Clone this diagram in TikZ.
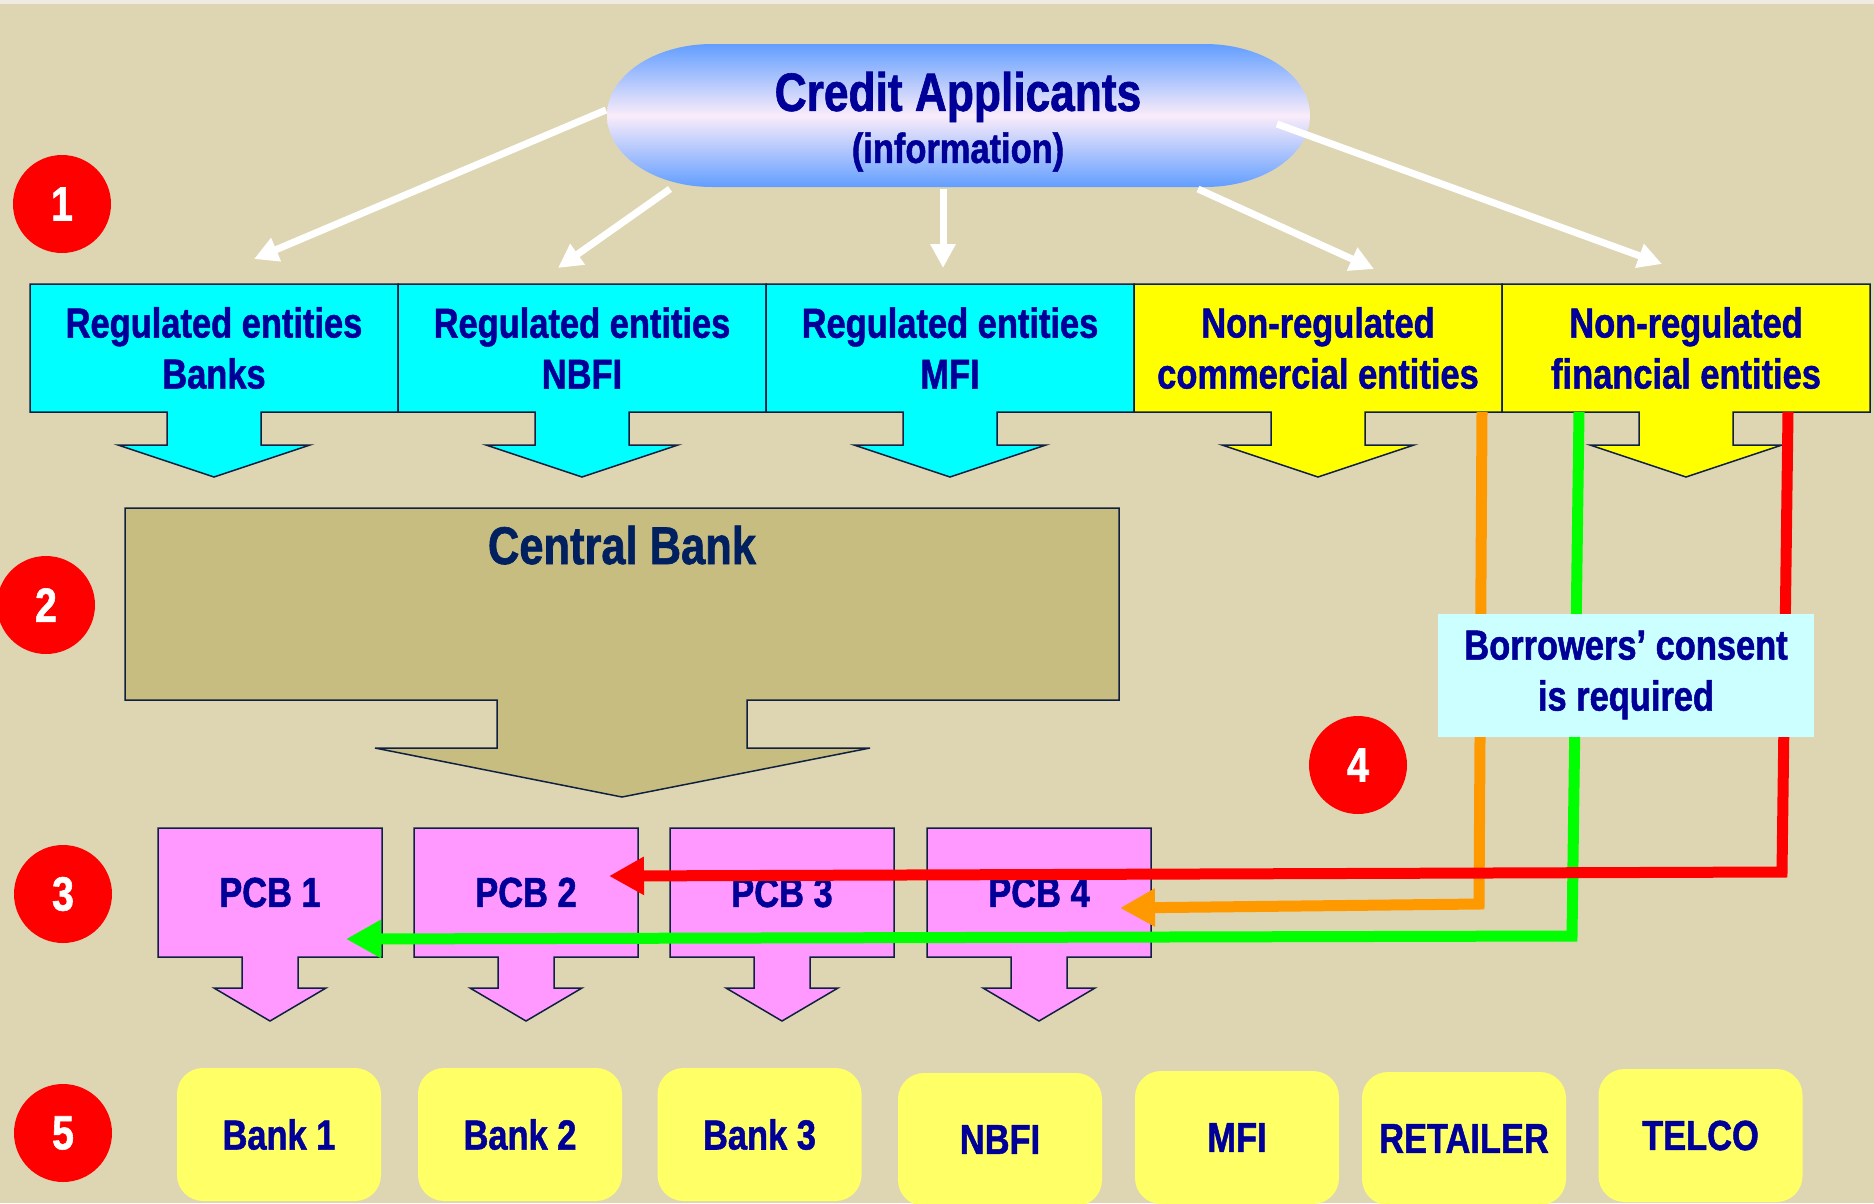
\documentclass[tikz,border=0pt]{standalone}
\usepackage{fontspec}
\setmainfont{Liberation Sans}[FakeStretch=0.82, FakeBold=1.2]
\usetikzlibrary{arrows.meta}

\definecolor{bgbeige}{RGB}{222,214,178}
\definecolor{topstrip}{RGB}{238,236,226}
\definecolor{navytext}{RGB}{0,0,153}
\definecolor{cbtext}{RGB}{0,32,96}
\definecolor{outline}{RGB}{16,32,64}
\definecolor{regcyan}{RGB}{0,255,255}
\definecolor{nonregyellow}{RGB}{255,255,0}
\definecolor{cbfill}{RGB}{200,189,128}
\definecolor{pcbpink}{RGB}{255,153,255}
\definecolor{userfill}{RGB}{255,255,102}
\definecolor{consentfill}{RGB}{204,255,255}
\definecolor{pillblue}{RGB}{98,158,255}
\definecolor{pillmid}{RGB}{250,236,250}
\definecolor{flowred}{RGB}{255,0,0}
\definecolor{floworange}{RGB}{255,153,0}
\definecolor{flowgreen}{RGB}{0,255,0}

\tikzset{
  boxtext/.style={text=navytext, align=center, font=\bfseries\fontsize{42}{51}\selectfont},
  callout/.style={draw=outline, line width=1.5pt, line join=miter},
  stepnum/.style={circle, fill=flowred, minimum size=98pt, inner sep=0pt, text=white, font=\bfseries\fontsize{48}{48}\selectfont},
  userbox/.style={rectangle, rounded corners=26pt, fill=userfill, minimum width=204pt, minimum height=133pt, inner sep=0pt, boxtext},
  infoarrow/.style={draw=white, line width=7pt, -{Triangle[length=24pt,width=24pt]}},
  flow/.style={line width=11pt, -{Triangle[length=35pt,width=36pt]}}
}

\begin{document}
\begin{tikzpicture}[x=1pt,y=-1pt]

\useasboundingbox (0,0) rectangle (1874,1203);
\fill[bgbeige] (0,0) rectangle (1874,1203);
\fill[topstrip] (0,0) rectangle (1874,4);

% applicants
\shade[top color=pillblue, bottom color=pillblue, middle color=pillmid]
  (712,44) -- (1205,44) .. controls (1263,44) and (1310,76) .. (1310,115.5)
  .. controls (1310,155) and (1263,187) .. (1205,187) -- (712,187)
  .. controls (654,187) and (607,155) .. (607,115.5)
  .. controls (607,76) and (654,44) .. (712,44) -- cycle;
\node[boxtext, font=\bfseries\fontsize{54}{52}\selectfont] (credit) at (958,121.7)
  {Credit Applicants\\{\fontsize{42}{52}\selectfont (information)}};

\coordinate (credA) at (606,110);
\coordinate (credB) at (670,189);
\coordinate (credC) at (943,189);
\coordinate (credD) at (1198,189);
\coordinate (credE) at (1277,124);
\coordinate (toBanks) at (254,259);
\coordinate (toNbfi) at (558,268);
\coordinate (toMfi) at (943,268);
\coordinate (toComm) at (1374,269);
\coordinate (toFin) at (1662,264);

\draw[infoarrow] (credA) -- (toBanks);
\draw[infoarrow] (credB) -- (toNbfi);
\draw[infoarrow] (credC) -- (toMfi);
\draw[infoarrow] (credD) -- (toComm);
\draw[infoarrow] (credE) -- (toFin);

% reporting entities
\draw[callout, fill=regcyan] (30,284) -- (398,284) -- (398,412) -- (261,412) -- (261,445) -- (310,445)
  -- (214,477) -- (118,445) -- (167,445) -- (167,412) -- (30,412) -- cycle;
\draw[callout, fill=regcyan] (398,284) -- (766,284) -- (766,412) -- (629,412) -- (629,445) -- (678,445)
  -- (582,477) -- (486,445) -- (535,445) -- (535,412) -- (398,412) -- cycle;
\draw[callout, fill=regcyan] (766,284) -- (1134,284) -- (1134,412) -- (997,412) -- (997,445) -- (1046,445)
  -- (950,477) -- (854,445) -- (903,445) -- (903,412) -- (766,412) -- cycle;
\draw[callout, fill=nonregyellow] (1134,284) -- (1502,284) -- (1502,412) -- (1365,412) -- (1365,445) -- (1414,445)
  -- (1318,477) -- (1222,445) -- (1271,445) -- (1271,412) -- (1134,412) -- cycle;
\draw[callout, fill=nonregyellow] (1502,284) -- (1870,284) -- (1870,412) -- (1733,412) -- (1733,445) -- (1782,445)
  -- (1686,477) -- (1590,445) -- (1639,445) -- (1639,412) -- (1502,412) -- cycle;

\node[boxtext] (banks) at (214,348) {Regulated entities\\Banks};
\node[boxtext] (nbfi) at (582,348) {Regulated entities\\NBFI};
\node[boxtext] (mfi) at (950,348) {Regulated entities\\MFI};
\node[boxtext] (commercial) at (1318,348) {Non-regulated\\commercial entities};
\node[boxtext] (financial) at (1686,348) {Non-regulated\\financial entities};

% central bank
\draw[callout, fill=cbfill] (125,508) -- (1119,508) -- (1119,700) -- (747,700) -- (747,748) -- (870,748)
  -- (622,797) -- (375,748) -- (497,748) -- (497,700) -- (125,700) -- cycle;
\node[boxtext, text=cbtext, font=\bfseries\fontsize{53}{53}\selectfont, anchor=base] (central) at (622,564) {Central Bank};

% credit bureaus
\draw[callout, fill=pcbpink] (158,828) -- (382,828) -- (382,957) -- (298,957) -- (298,988) -- (326,988)
  -- (270,1021) -- (214,988) -- (242,988) -- (242,957) -- (158,957) -- cycle;
\draw[callout, fill=pcbpink] (414,828) -- (638,828) -- (638,957) -- (554,957) -- (554,988) -- (582,988)
  -- (526,1021) -- (470,988) -- (498,988) -- (498,957) -- (414,957) -- cycle;
\draw[callout, fill=pcbpink] (670,828) -- (894,828) -- (894,957) -- (810,957) -- (810,988) -- (838,988)
  -- (782,1021) -- (726,988) -- (754,988) -- (754,957) -- (670,957) -- cycle;
\draw[callout, fill=pcbpink] (927,828) -- (1151,828) -- (1151,957) -- (1067,957) -- (1067,988) -- (1095,988)
  -- (1039,1021) -- (983,988) -- (1011,988) -- (1011,957) -- (927,957) -- cycle;

\node[boxtext] (pcb1) at (270,892.5) {PCB 1};
\node[boxtext] (pcb2) at (526,892.5) {PCB 2};
\node[boxtext] (pcb3) at (782,892.5) {PCB 3};
\node[boxtext] (pcb4) at (1039,892.5) {PCB 4};

% users
\node[userbox] (bank1) at (279,1134.5) {Bank 1};
\node[userbox] (bank2) at (520,1134.5) {Bank 2};
\node[userbox] (bank3) at (759.5,1134.5) {Bank 3};
\node[userbox] (usernbfi) at (1000,1139.5) {NBFI};
\node[userbox] (usermfi) at (1237,1137.5) {MFI};
\node[userbox] (retailer) at (1464,1138.5) {RETAILER};
\node[userbox] (telco) at (1700.5,1135.5) {TELCO};

% non-regulated data flows
\coordinate (commOut) at (1482,412);
\coordinate (commBend) at (1479,904);
\coordinate (pcbFourIn) at (1120,908);
\coordinate (finOutG) at (1579,412);
\coordinate (finBendG) at (1572,936);
\coordinate (pcbOneIn) at (346,939);
\coordinate (finOutR) at (1788,412);
\coordinate (finBendR) at (1782,872);
\coordinate (pcbTwoIn) at (609,876);

\draw[flow, floworange] (commOut) -- (commBend) -- (pcbFourIn);
\draw[flow, flowgreen] (finOutG) -- (finBendG) -- (pcbOneIn);
\draw[flow, flowred] (finOutR) -- (finBendR) -- (pcbTwoIn);

\node[boxtext, fill=consentfill, minimum width=376pt, minimum height=123pt] (consent) at (1626,675)
  {Borrowers’ consent\\is required};

% steps
\node[stepnum] (s1) at (62,204) {1};
\node[stepnum] (s2) at (46,605) {2};
\node[stepnum] (s3) at (63,894) {3};
\node[stepnum] (s4) at (1358,765) {4};
\node[stepnum] (s5) at (63,1133) {5};

\end{tikzpicture}
\end{document}
